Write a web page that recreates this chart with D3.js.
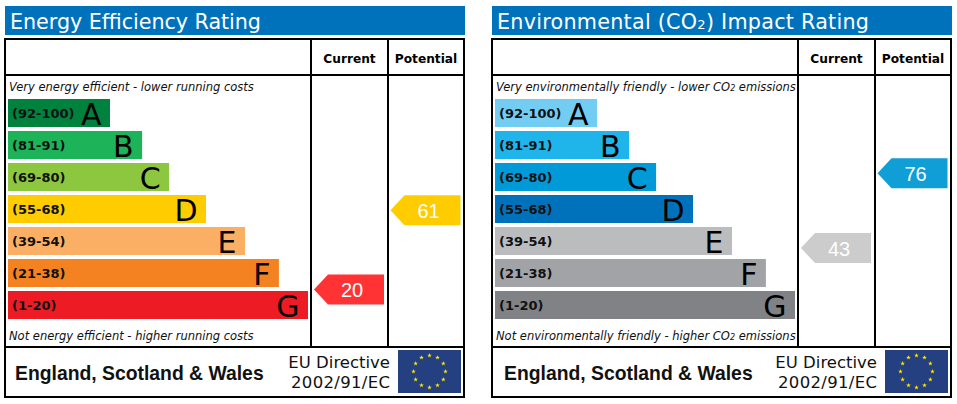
<!DOCTYPE html>
<html><head><meta charset="utf-8">
<style>html,body{margin:0;padding:0;background:#fff}svg{display:block}</style>
<script src="https://cdn.jsdelivr.net/npm/d3@7/dist/d3.min.js"></script>
</head><body><svg id="c" width="957" height="404"></svg>
<script>
const ratingBands = ["(92-100)","(81-91)","(69-80)","(55-68)","(39-54)","(21-38)","(1-20)"];
const ratingLetters = ["A","B","C","D","E","F","G"];
const barLengths = [34,44.7,53.7,66,79,90.3,100];
const bandLows = [1,21,39,55,69,81,92,101];
const columns = ["Current","Potential"];
const energyColors = ["#00823f","#1db459","#8dc63f","#ffcc00","#fbaf65","#f58220","#ed1c24"];
const co2Colors = ["#73cdf3","#1fb4ea","#009ad9","#0072bc","#bbbcbe","#a2a3a6","#808285"];
const energyValues = [20,61];
const co2Values = [43,76];
const energyArrowColors = ["#ff3333","#ffcc00"];
const co2ArrowColors = ["#cccccc","#0f9fd6"];
const panelsMeta = [
 {ox:0,footX:15,titleLen:251,title:["Energy Efficiency Rating"],top:["Very energy efficient - lower running costs"],bottom:["Not energy efficient - higher running costs"],colors:energyColors,values:energyValues,arrow:energyArrowColors},
 {ox:487,footX:17,titleLen:372,title:["Environmental (CO","2",") Impact Rating"],top:["Very environmentally friendly - lower CO","2"," emissions"],bottom:["Not environmentally friendly - higher CO","2"," emissions"],colors:co2Colors,values:co2Values,arrow:co2ArrowColors}
];
const VERD="'DejaVu Sans',Verdana,sans-serif", ARIAL="'Liberation Sans',Arial,sans-serif";
const svg=d3.select("#c");
const rowY=d3.scaleBand().domain(ratingBands).range([99,319]).paddingInner(4/32).paddingOuter(0);
const barX=d3.scaleLinear().domain([0,100]).range([8,308]);
const colX=d3.scaleBand().domain(columns).range([312,465]);
const valueY=d3.scaleLinear().domain(bandLows).range([320,288,256,224,192,160,128,96]);

function subbed(sel,parts,size,subSize){
  parts.forEach((p,i)=>{
    sel.append("tspan").attr("font-size",parts.length>1&&i==1?subSize:size).text(p);
  });
}
function star(cx,cy,r){
  const pts=[];
  for(let i=0;i<10;i++){const a=-Math.PI/2+i*Math.PI/5,q=i%2?r*0.4:r;pts.push([cx+q*Math.cos(a),cy+q*Math.sin(a)]);}
  return "M"+pts.map(p=>p.join(",")).join("L")+"Z";
}
panelsMeta.forEach(p=>{
  const g=svg.append("g").attr("transform",`translate(${p.ox},0)`);
  g.append("rect").attr("x",5).attr("y",6).attr("width",460).attr("height",29).attr("fill","#0072bc");
  const t=g.append("text").attr("x",10).attr("y",29).attr("fill","#fff").attr("font-family",VERD).attr("textLength",p.titleLen);
  subbed(t,p.title,20.7,13);
  const ln=(x1,y1,x2,y2)=>g.append("line").attr("x1",x1).attr("y1",y1).attr("x2",x2).attr("y2",y2).attr("stroke","#000").attr("stroke-width",2);
  g.append("rect").attr("x",5).attr("y",39).attr("width",459).attr("height",358).attr("fill","none").attr("stroke","#000").attr("stroke-width",2);
  ln(5,75,464,75);ln(5,347,464,347);
  ln(311,39,311,347);ln(388,39,388,347);
  columns.forEach((c,i)=>g.append("text").attr("x",i?426:349.5).attr("y",63).attr("text-anchor","middle").attr("font-family",VERD).attr("font-weight","bold").attr("font-size",12.2).text(c));
  const tt=g.append("text").attr("x",9).attr("y",91).attr("font-family",VERD).attr("font-style","italic").attr("fill","#111");
  subbed(tt,p.top,11.5,8);
  const tb=g.append("text").attr("x",9).attr("y",340).attr("font-family",VERD).attr("font-style","italic").attr("fill","#111");
  subbed(tb,p.bottom,11.5,8);
  ratingBands.forEach((b,i)=>{
    g.append("rect").attr("x",barX(0)).attr("y",rowY(b)).attr("width",barX(barLengths[i])-barX(0)).attr("height",rowY.bandwidth()).attr("fill",p.colors[i]);
    g.append("text").attr("x",12).attr("y",rowY(b)+19).attr("font-family",VERD).attr("font-weight","bold").attr("font-size",13).attr("fill","#111").text(b);
    g.append("text").attr("x",barX(barLengths[i])-8.5).attr("y",rowY(b)+26).attr("text-anchor","end").attr("font-family",VERD).attr("font-size",30).attr("fill","#000").text(ratingLetters[i]);
  });
  p.values.forEach((v,i)=>{
    const cx=colX(columns[i]), y=valueY(v), h=15, L=cx+2, N=cx+16, R=cx+72;
    g.append("path").attr("d",`M${L},${y}L${N},${y-h}L${R},${y-h}L${R},${y+h}L${N},${y+h}Z`).attr("fill",p.arrow[i]);
    g.append("text").attr("x",cx+40).attr("y",y+7.5).attr("text-anchor","middle").attr("font-family",ARIAL).attr("font-size",20).attr("fill","#fff").text(v);
  });
  g.append("text").attr("x",p.footX).attr("y",380).attr("font-family",ARIAL).attr("font-weight","bold").attr("font-size",19.35).attr("fill","#111").text("England, Scotland & Wales");
  g.append("text").attr("x",390).attr("y",368).attr("text-anchor","end").attr("font-family",VERD).attr("font-size",16.5).attr("fill","#111").text("EU Directive");
  g.append("text").attr("x",390).attr("y",388).attr("text-anchor","end").attr("font-family",VERD).attr("font-size",16.5).attr("textLength",99).attr("fill","#111").text("2002/91/EC");
  g.append("rect").attr("x",398).attr("y",350).attr("width",63).attr("height",43).attr("fill","#254080");
  d3.range(12).forEach(k=>{
    const a=k*Math.PI/6;
    g.append("path").attr("d",star(429.5+16*Math.sin(a),371.5-16*Math.cos(a),2.4)).attr("fill","#ffe600");
  });
});
</script></body></html>
